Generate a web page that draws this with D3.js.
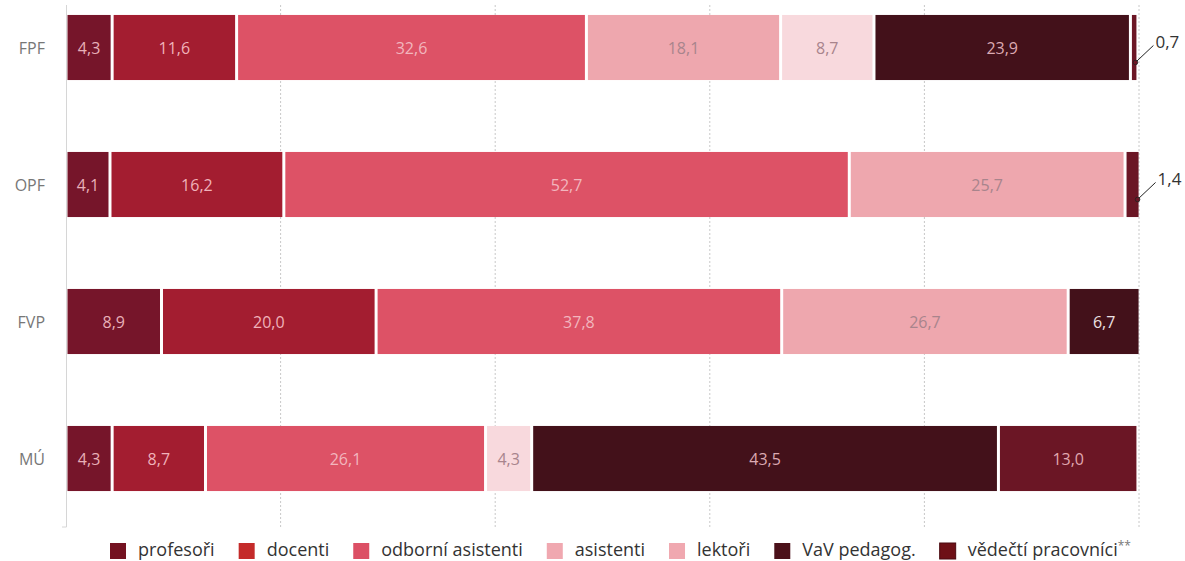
<!DOCTYPE html>
<html><head><meta charset="utf-8">
<script src="https://cdn.jsdelivr.net/npm/d3@7"></script>
<style>body{margin:0;background:#fff;} svg{display:block;font-family:"Open Sans",sans-serif;}</style>
</head><body>
<svg id="c" width="1185" height="561"></svg>
<script>
const categories = ["FPF", "OPF", "FVP", "MÚ"];
const seriesNames = ["profesoři", "docenti", "odborní asistenti", "asistenti", "lektoři", "VaV pedagog.", "vědečtí pracovníci"];
const profesori = [4.3, 4.1, 8.9, 4.3];
const docenti = [11.6, 16.2, 20.0, 8.7];
const odborniAsistenti = [32.6, 52.7, 37.8, 26.1];
const asistenti = [18.1, 25.7, 26.7, 0];
const lektori = [8.7, 0, 0, 4.3];
const vavPedagog = [23.9, 0, 6.7, 43.5];
const vedeckiPracovnici = [0.7, 1.4, 0, 13.0];
const gridTicks = [20, 40, 60, 80, 100];

const seriesValues = [profesori, docenti, odborniAsistenti, asistenti, lektori, vavPedagog, vedeckiPracovnici];
const barColors = ["#76152a", "#a31d30", "#dd5266", "#eea7ae", "#f8d9dd", "#43111a", "#6b1625"];
const legendColors = ["#741221", "#c42b2a", "#dc5065", "#f0a8b0", "#f0a8b0", "#4b111a", "#6e1016"];
const labelColors = ["#e8b0b8", "#f0b2ba", "#f2b6be", "#a8848c", "#a8848c", "#dcaab2", "#e0a8b0"];

const svg = d3.select("#c");
const x = d3.scaleLinear().domain([0, 100]).range([66, 1139]);
const y = d3.scaleBand().domain(categories).range([-21, 527]).paddingInner(0.525).paddingOuter(0.2625);

// grid
svg.append("g").selectAll("line").data(gridTicks).join("line")
  .attr("x1", d => x(d)).attr("x2", d => x(d)).attr("y1", 5).attr("y2", 527)
  .attr("stroke", "#c8c8c8").attr("stroke-width", 1).attr("stroke-dasharray", "2,2");
// left axis line
svg.append("line").attr("x1", 66.5).attr("x2", 66.5).attr("y1", 5).attr("y2", 527).attr("stroke", "#d6d6d6");
svg.append("line").attr("x1", 62).attr("x2", 66.5).attr("y1", 527).attr("y2", 527).attr("stroke", "#d6d6d6");

// stacked data
const rows = categories.map((c, i) => {
  let acc = 0;
  return seriesValues.map((vals, s) => {
    const v = vals[i];
    const r = {cat: c, s, v, x0: acc, x1: acc + v};
    acc += v;
    return r;
  }).filter(d => d.v > 0);
});
const segs = rows.flat();

svg.append("g").selectAll("rect").data(segs).join("rect")
  .attr("x", d => x(d.x0) + 1.5)
  .attr("width", d => Math.max(1.5, x(d.x1) - x(d.x0) - 3))
  .attr("y", d => y(d.cat)).attr("height", y.bandwidth())
  .attr("fill", d => barColors[d.s]);

const fmt = v => v.toFixed(1).replace(".", ",");
const inside = segs.filter(d => d.v >= 2);
svg.append("g").selectAll("text").data(inside).join("text")
  .attr("x", d => (x(d.x0) + x(d.x1)) / 2)
  .attr("y", d => y(d.cat) + y.bandwidth() / 2 + 6)
  .attr("text-anchor", "middle").attr("font-size", 16)
  .attr("fill", d => (d.cat === "FVP" && d.s === 5) ? "#ece2e4" : labelColors[d.s])
  .text(d => fmt(d.v));

// callouts for tiny segments
const small = segs.filter(d => d.v < 2);
const cg = svg.append("g");
small.forEach(d => {
  const px = x(d.x1) - 2.5, py = y(d.cat) + y.bandwidth() * 0.73;
  const tx = px + 18, ty = py - 17;
  cg.append("line").attr("x1", px).attr("y1", py).attr("x2", tx).attr("y2", ty).attr("stroke", "#222").attr("stroke-width", 1);
  cg.append("circle").attr("cx", px).attr("cy", py).attr("r", 2.3).attr("fill", barColors[d.s]).attr("stroke", "#222").attr("stroke-width", 0.8);
  cg.append("text").attr("x", tx + 2).attr("y", ty + 3).attr("font-size", 17).attr("fill", "#333").text(fmt(d.v));
});

// category labels
svg.append("g").selectAll("text").data(categories).join("text")
  .attr("x", 45).attr("y", d => y(d) + y.bandwidth() / 2 + 6)
  .attr("text-anchor", "end").attr("font-size", 16).attr("fill", "#777").text(d => d);

// legend
const lg = svg.append("g");
let lx = 110;
seriesNames.forEach((n, i) => {
  lg.append("rect").attr("x", lx).attr("y", 543).attr("width", 16).attr("height", 16)
    .attr("fill", legendColors[i]).attr("stroke", i === 6 ? "#4a0a10" : "none").attr("stroke-width", 1);
  const t = lg.append("text").attr("x", lx + 28).attr("y", 556).attr("font-size", 18).attr("fill", "#333").text(n);
  if (i === 6) t.append("tspan").attr("dy", -6).attr("font-size", 12).attr("fill", "#777").text("**");
  lx += 28 + t.node().getComputedTextLength() + 24;
});
</script>
</body></html>
